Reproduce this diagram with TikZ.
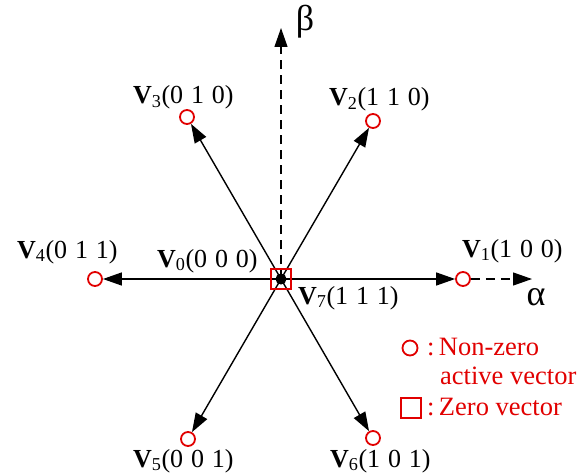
\documentclass[tikz,border=0pt]{standalone}
\usepackage{fontspec}
\setmainfont{Liberation Serif}
\usetikzlibrary{arrows.meta}
\definecolor{vred}{RGB}{225,0,0}
\newcommand{\vlab}[4]{{\bfseries V}\textsubscript{#1}(#2\hspace{0.3em}#3\hspace{0.3em}#4)}
\begin{document}
\begin{tikzpicture}[x=1pt,y=-1pt,
  vec/.style={line width=1.4pt,-{Triangle[length=19pt,width=13pt]}},
  axis/.style={line width=1.2pt,dash pattern=on 9pt off 6pt,-{Triangle[length=19pt,width=13pt]}},
  vcirc/.style={circle,draw=vred,line width=1.8pt,minimum size=14pt,inner sep=0pt},
  lab/.style={anchor=base west,inner sep=0pt,font=\fontsize{26}{30}\selectfont},
  leg/.style={anchor=base west,inner sep=0pt,text=vred,font=\fontsize{26.5}{30}\selectfont},
  greek/.style={inner sep=0pt,font=\fontsize{36}{40}\selectfont}]
\useasboundingbox (0,0) rectangle (578,476);
\coordinate (O) at (281,279);
\coordinate (btip) at (281,28);
\coordinate (atip) at (532,279);
% axes
\draw[axis] (O) -- (btip);
\node[greek] (beta) at (305,22) {β};
\node[vcirc] (v1) at (463,279) {};
\node[vcirc] (v2) at (373,121) {};
\node[vcirc] (v3) at (187,117) {};
\node[vcirc] (v4) at (95,279) {};
\node[vcirc] (v5) at (188,439) {};
\node[vcirc] (v6) at (373,438) {};
\draw[axis] (v1) -- (atip);
\node[greek] (alpha) at (536,297) {α};
% vectors
\foreach \v in {v1,v2,v3,v4,v5,v6}{\draw[vec] (O) -- (\v);}
% zero vector
\node[rectangle,draw=vred,line width=2.5pt,minimum size=20pt,inner sep=0pt] (zs) at (O) {};
\fill (O) circle (5.5pt);
% labels
\node[lab] (l1) at (462,257) {\vlab{1}{1}{0}{0}};
\node[lab] (l2) at (329,106) {\vlab{2}{1}{1}{0}};
\node[lab] (l3) at (133,104) {\vlab{3}{0}{1}{0}};
\node[lab] (l4) at (17,258) {\vlab{4}{0}{1}{1}};
\node[lab] (l0) at (157,267) {\vlab{0}{0}{0}{0}};
\node[lab] (l7) at (298,304) {\vlab{7}{1}{1}{1}};
\node[lab] (l5) at (133,467) {\vlab{5}{0}{0}{1}};
\node[lab] (l6) at (330,467) {\vlab{6}{1}{0}{1}};
% legend
\node[circle,draw=vred,line width=1.8pt,minimum size=15pt,inner sep=0pt] (lc) at (410,348) {};
\node[leg] (lt1) at (427,355) {:\,Non-zero};
\node[leg] (lt2) at (440,384) {active vector};
\node[rectangle,draw=vred,line width=2.2pt,minimum size=20pt,inner sep=0pt] (ls) at (411,408) {};
\node[leg] (lt3) at (427,415) {:\,Zero vector};
\end{tikzpicture}
\end{document}
